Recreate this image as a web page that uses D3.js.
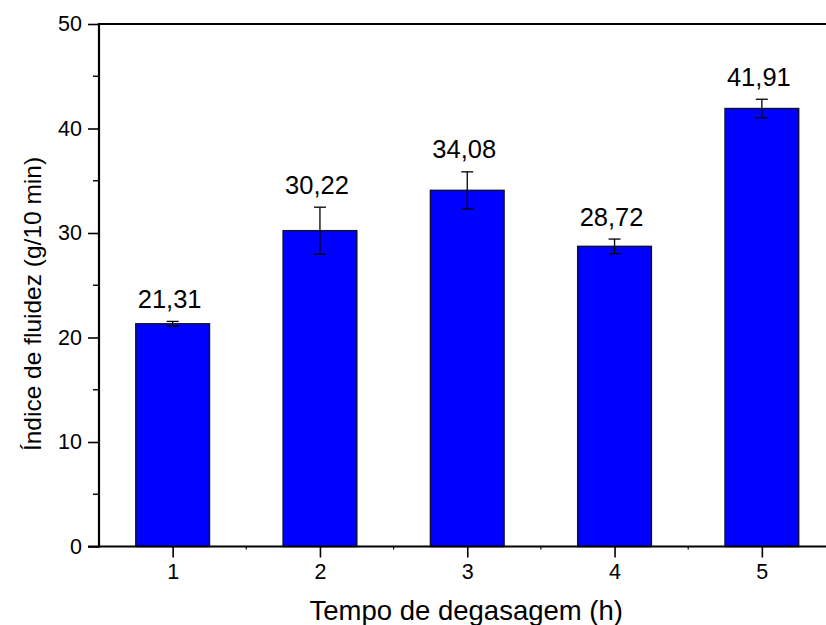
<!DOCTYPE html>
<html>
<head>
<meta charset="utf-8">
<script src="https://cdn.jsdelivr.net/npm/d3@7"></script>
<style>
  html, body { margin: 0; padding: 0; background: #fff; }
  svg { display: block; font-family: "Liberation Sans", Arial, sans-serif; }
</style>
</head>
<body>
<svg id="chart" width="826" height="625"></svg>
<script>
// Melt flow index versus degassing time
const categories = [1, 2, 3, 4, 5];
const values = [21.31, 30.22, 34.08, 28.72, 41.91];
const errors = [0.23, 2.25, 1.77, 0.70, 0.89];
const valueLabels = ["21,31", "30,22", "34,08", "28,72", "41,91"];
const yTicks = [0, 10, 20, 30, 40, 50];
const yMinorTicks = [5, 15, 25, 35, 45];
const xMinorTicks = [1.5, 2.5, 3.5, 4.5];
const xTitle = "Tempo de degasagem (h)";
const yTitle = "Índice de fluidez (g/10 min)";

const svg = d3.select("#chart");
const plotLeft = 99, plotRight = 835.5, plotTop = 24, plotBottom = 546.5;

const x = d3.scaleLinear().domain([0.5, 5.5]).range([plotLeft, plotRight]);
const y = d3.scaleLinear().domain([0, 50]).range([plotBottom, plotTop]);
const barWidth = x(1.25) - x(0.75);

// bars
svg.append("g").selectAll("rect")
  .data(categories)
  .join("rect")
  .attr("x", (d) => x(d) - barWidth / 2)
  .attr("y", (d, i) => y(values[i]))
  .attr("width", barWidth)
  .attr("height", (d, i) => y(0) - y(values[i]))
  .attr("fill", "#0000ff")
  .attr("stroke", "#10103c")
  .attr("stroke-width", 1.5);

// error bars
const eb = svg.append("g").attr("stroke", "#000").attr("stroke-width", 1.3);
categories.forEach((c, i) => {
  const cx = x(c), hi = y(values[i] + errors[i]), lo = y(values[i] - errors[i]);
  eb.append("line").attr("x1", cx).attr("x2", cx).attr("y1", hi).attr("y2", lo);
  eb.append("line").attr("x1", cx - 6).attr("x2", cx + 6).attr("y1", hi).attr("y2", hi);
  eb.append("line").attr("x1", cx - 6).attr("x2", cx + 6).attr("y1", lo).attr("y2", lo);
});

// value labels
svg.append("g").selectAll("text")
  .data(categories)
  .join("text")
  .attr("x", (d) => x(d) - 3)
  .attr("y", (d, i) => y(values[i] + errors[i]) - 13.5)
  .attr("text-anchor", "middle")
  .attr("font-size", 25.5)
  .attr("fill", "#000")
  .text((d, i) => valueLabels[i]);

// y axis
const yAxis = svg.append("g").attr("transform", `translate(${plotLeft},0)`)
  .call(d3.axisLeft(y).tickValues(yTicks).tickSize(11).tickPadding(6).tickFormat(d3.format("d")));
yAxis.select(".domain").remove();
yAxis.selectAll(".tick line").attr("stroke", "#000").attr("stroke-width", 1.6);
yAxis.selectAll(".tick text").attr("font-size", 21.5).attr("fill", "#000")
  .attr("font-family", "Liberation Sans, Arial, sans-serif");
svg.append("g").selectAll("line").data(yMinorTicks).join("line")
  .attr("x1", plotLeft - 6).attr("x2", plotLeft).attr("y1", (d) => y(d)).attr("y2", (d) => y(d))
  .attr("stroke", "#000").attr("stroke-width", 1.4);

// x axis
const xAxis = svg.append("g").attr("transform", `translate(0,${plotBottom})`)
  .call(d3.axisBottom(x).tickValues(categories).tickSize(11).tickPadding(6).tickFormat(d3.format("d")));
xAxis.select(".domain").remove();
xAxis.selectAll(".tick line").attr("stroke", "#000").attr("stroke-width", 1.6);
xAxis.selectAll(".tick text").attr("font-size", 21.5).attr("fill", "#000")
  .attr("font-family", "Liberation Sans, Arial, sans-serif");
svg.append("g").selectAll("line").data(xMinorTicks).join("line")
  .attr("x1", (d) => x(d)).attr("x2", (d) => x(d)).attr("y1", plotBottom).attr("y2", plotBottom + 3)
  .attr("stroke", "#000").attr("stroke-width", 1.2);

// frame lines
svg.append("line").attr("x1", plotLeft).attr("x2", plotRight).attr("y1", plotTop).attr("y2", plotTop)
  .attr("stroke", "#000").attr("stroke-width", 1.8);
svg.append("line").attr("x1", plotLeft - 11).attr("x2", plotRight).attr("y1", plotBottom).attr("y2", plotBottom)
  .attr("stroke", "#000").attr("stroke-width", 1.8);
svg.append("line").attr("x1", plotLeft).attr("x2", plotLeft).attr("y1", plotTop - 1).attr("y2", plotBottom + 1)
  .attr("stroke", "#000").attr("stroke-width", 2.2);
svg.append("line").attr("x1", plotRight).attr("x2", plotRight).attr("y1", plotTop).attr("y2", plotBottom)
  .attr("stroke", "#000").attr("stroke-width", 2);

// axis titles
svg.append("text")
  .attr("x", (plotLeft + plotRight) / 2 - 1).attr("y", 620)
  .attr("text-anchor", "middle").attr("font-size", 27.5).attr("fill", "#000")
  .text(xTitle);
svg.append("text")
  .attr("transform", "translate(40.5,304) rotate(-90)")
  .attr("text-anchor", "middle").attr("font-size", 24.5).attr("fill", "#000")
  .text(yTitle);
</script>
</body>
</html>
